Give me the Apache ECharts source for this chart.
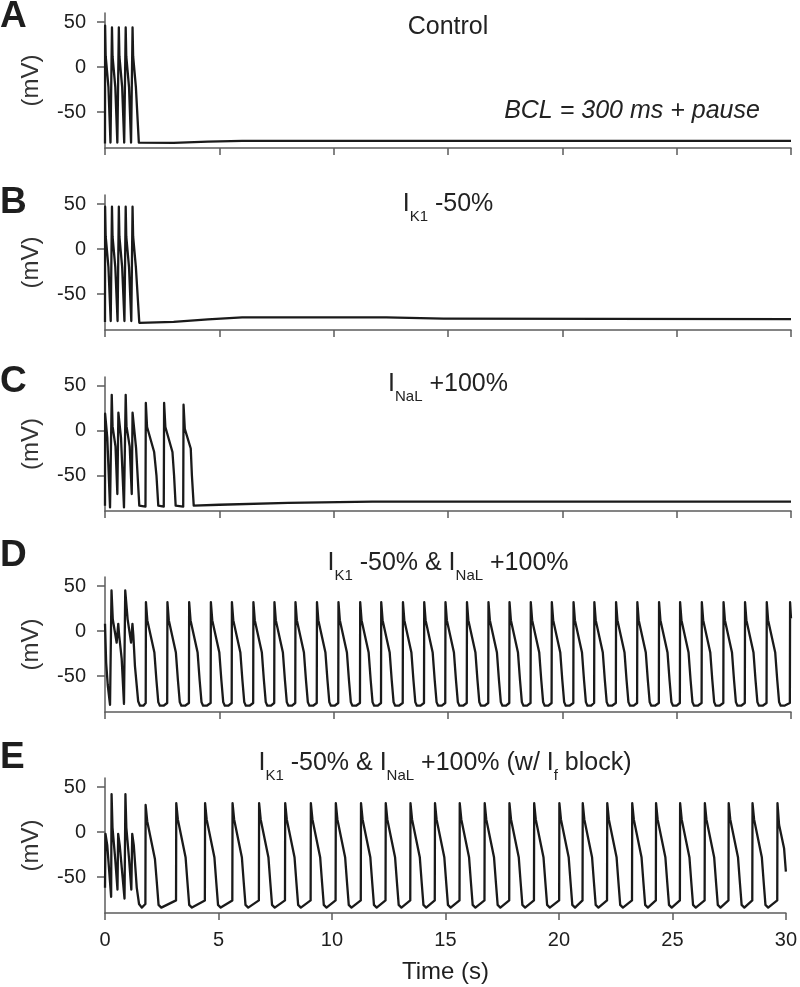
<!DOCTYPE html>
<html>
<head>
<meta charset="utf-8">
<script src="https://cdn.jsdelivr.net/npm/echarts@6/dist/echarts.min.js"></script>
<style>
html,body{margin:0;padding:0;background:#fff;}
#chart{width:800px;height:987px;}
</style>
</head>
<body>
<div id="chart"></div>
<script>
// ---- data (time in s, membrane potential in mV) ----
const timeTicks = [0, 5, 10, 15, 20, 25, 30];
const mvTicks = [-50, 0, 50];
const panelLetters = ['A', 'B', 'C', 'D', 'E'];

const traceA = [
  [0,-85],[0.005,46],[0.03,12],[0.15,-22],[0.24,-84],[0.3,-86],
  [0.305,44],[0.33,12],[0.45,-22],[0.54,-84],[0.6,-86],
  [0.605,44],[0.63,12],[0.75,-22],[0.84,-84],[0.9,-86],
  [0.905,44],[0.93,12],[1.05,-22],[1.14,-84],[1.2,-86],
  [1.205,44],[1.23,12],[1.35,-22],[1.48,-84],[1.56,-85.5],
  [3,-84.2],[4.5,-83],[6,-82],[12,-82],[20,-82],[30,-82]
];

const traceB = [
  [0,-81],[0.005,47],[0.03,14],[0.15,-20],[0.25,-80],[0.3,-81],
  [0.305,47],[0.33,14],[0.45,-20],[0.55,-80],[0.6,-81],
  [0.605,47],[0.63,14],[0.75,-20],[0.85,-80],[0.9,-81],
  [0.905,47],[0.93,14],[1.05,-20],[1.15,-80],[1.2,-81],
  [1.205,47],[1.23,14],[1.35,-20],[1.5,-82],[1.56,-83.7],
  [3,-81],[4.5,-78.2],[6,-76],[12.3,-76],[14.8,-77.3],[22,-77.7],[30,-78]
];

const traceC = [
  [0,-84],[0.005,19],[0.1,-8],[0.22,-86],[0.29,-86],
  [0.295,40],[0.33,5],[0.46,-18],[0.54,-71],[0.58,-71],
  [0.585,20],[0.7,-8],[0.83,-86],[0.9,-86],
  [0.905,40],[0.94,5],[1.08,-18],[1.17,-71],[1.2,-71],
  [1.205,20],[1.36,-20],[1.5,-84],[1.77,-85],
  [1.785,31],[1.84,4],[2.15,-24],[2.25,-50],[2.33,-84],[2.57,-85],
  [2.585,31],[2.64,4],[2.95,-24],[3.02,-50],[3.09,-84],[3.42,-85],
  [3.435,29],[3.49,2],[3.75,-20],[3.8,-50],[3.88,-84],
  [5,-83],[8,-81],[11.7,-79.6],[20,-79.5],[30,-79.5]
];

const traceD = [
  [0,8],[0.05,-35],[0.12,-60],[0.22,-82],[0.28,-82],
  [0.285,45],[0.34,13],[0.51,-13],[0.58,8],[0.62,-5],[0.73,-31],[0.83,-81],[0.88,-81],
  [0.885,45],[0.99,13],[1.14,-13],[1.2,8],[1.24,-5],[1.31,-39],[1.45,-78],[1.53,-83],[1.68,-83],
  [1.78,-80],[1.79,32],[1.85,12],[2.16,-24],[2.25,-55],[2.33,-79],[2.40,-83],[2.56,-83],
  [2.72,-80],[2.73,32],[2.79,12],[3.10,-24],[3.19,-55],[3.27,-79],[3.34,-83],[3.50,-83],
  [3.67,-80],[3.68,32],[3.74,12],[4.05,-24],[4.14,-55],[4.22,-79],[4.29,-83],[4.45,-83],
  [4.62,-80],[4.63,32],[4.69,12],[5.00,-24],[5.09,-55],[5.17,-79],[5.24,-83],[5.40,-83],
  [5.54,-80],[5.55,32],[5.61,12],[5.92,-24],[6.01,-55],[6.09,-79],[6.16,-83],[6.32,-83],
  [6.48,-80],[6.49,32],[6.55,12],[6.86,-24],[6.95,-55],[7.03,-79],[7.10,-83],[7.26,-83],
  [7.40,-80],[7.41,32],[7.47,12],[7.78,-24],[7.87,-55],[7.95,-79],[8.02,-83],[8.18,-83],
  [8.32,-80],[8.33,32],[8.39,12],[8.70,-24],[8.79,-55],[8.87,-79],[8.94,-83],[9.10,-83],
  [9.26,-80],[9.27,32],[9.33,12],[9.64,-24],[9.73,-55],[9.81,-79],[9.88,-83],[10.04,-83],
  [10.20,-80],[10.21,32],[10.27,12],[10.58,-24],[10.67,-55],[10.75,-79],[10.82,-83],[10.98,-83],
  [11.15,-80],[11.16,32],[11.22,12],[11.53,-24],[11.62,-55],[11.70,-79],[11.77,-83],[11.93,-83],
  [12.07,-80],[12.08,32],[12.14,12],[12.45,-24],[12.54,-55],[12.62,-79],[12.69,-83],[12.85,-83],
  [13.02,-80],[13.03,32],[13.09,12],[13.40,-24],[13.49,-55],[13.57,-79],[13.64,-83],[13.80,-83],
  [13.95,-80],[13.96,32],[14.02,12],[14.33,-24],[14.42,-55],[14.50,-79],[14.57,-83],[14.73,-83],
  [14.88,-80],[14.89,32],[14.95,12],[15.26,-24],[15.35,-55],[15.43,-79],[15.50,-83],[15.66,-83],
  [15.82,-80],[15.83,32],[15.89,12],[16.20,-24],[16.29,-55],[16.37,-79],[16.44,-83],[16.60,-83],
  [16.76,-80],[16.77,32],[16.83,12],[17.14,-24],[17.23,-55],[17.31,-79],[17.38,-83],[17.54,-83],
  [17.68,-80],[17.69,32],[17.75,12],[18.06,-24],[18.15,-55],[18.23,-79],[18.30,-83],[18.46,-83],
  [18.61,-80],[18.62,32],[18.68,12],[18.99,-24],[19.08,-55],[19.16,-79],[19.23,-83],[19.39,-83],
  [19.53,-80],[19.54,32],[19.60,12],[19.91,-24],[20.00,-55],[20.08,-79],[20.15,-83],[20.31,-83],
  [20.48,-80],[20.49,32],[20.55,12],[20.86,-24],[20.95,-55],[21.03,-79],[21.10,-83],[21.26,-83],
  [21.39,-80],[21.40,32],[21.46,12],[21.77,-24],[21.86,-55],[21.94,-79],[22.01,-83],[22.17,-83],
  [22.34,-80],[22.35,32],[22.41,12],[22.72,-24],[22.81,-55],[22.89,-79],[22.96,-83],[23.12,-83],
  [23.27,-80],[23.28,32],[23.34,12],[23.65,-24],[23.74,-55],[23.82,-79],[23.89,-83],[24.05,-83],
  [24.22,-80],[24.23,32],[24.29,12],[24.60,-24],[24.69,-55],[24.77,-79],[24.84,-83],[25.00,-83],
  [25.14,-80],[25.15,32],[25.21,12],[25.52,-24],[25.61,-55],[25.69,-79],[25.76,-83],[25.92,-83],
  [26.09,-80],[26.10,32],[26.16,12],[26.47,-24],[26.56,-55],[26.64,-79],[26.71,-83],[26.87,-83],
  [27.04,-80],[27.05,32],[27.11,12],[27.42,-24],[27.51,-55],[27.59,-79],[27.66,-83],[27.82,-83],
  [27.98,-80],[27.99,32],[28.05,12],[28.36,-24],[28.45,-55],[28.53,-79],[28.60,-83],[28.76,-83],
  [28.93,-80],[28.94,32],[29.00,12],[29.31,-24],[29.40,-55],[29.48,-79],[29.55,-83],[29.71,-83],
  [29.95,-80],[29.96,32],[30.00,14]
];

const traceE = [
  [0,-62],[0.02,-2],[0.1,-15],[0.27,-72],
  [0.29,42],[0.33,5],[0.45,-30],[0.55,-64],
  [0.58,-2],[0.65,-15],[0.86,-74],
  [0.9,42],[0.94,5],[1.06,-30],[1.16,-64],
  [1.2,-2],[1.27,-15],[1.4,-62],[1.5,-80],[1.62,-84],
  [1.78,-80],[1.79,30],[1.86,12],[2.20,-30],[2.28,-55],[2.36,-81],[2.48,-84],
  [3.13,-76],[3.14,32],[3.21,14],[3.55,-28],[3.63,-55],[3.71,-81],[3.83,-84],
  [4.40,-76],[4.41,32],[4.48,14],[4.82,-28],[4.90,-55],[4.98,-81],[5.10,-84],
  [5.61,-76],[5.62,32],[5.69,14],[6.03,-28],[6.11,-55],[6.19,-81],[6.31,-84],
  [6.78,-76],[6.79,32],[6.86,14],[7.20,-28],[7.28,-55],[7.36,-81],[7.48,-84],
  [7.93,-76],[7.94,32],[8.01,14],[8.35,-28],[8.43,-55],[8.51,-81],[8.63,-84],
  [9.06,-76],[9.07,32],[9.14,14],[9.48,-28],[9.56,-55],[9.64,-81],[9.76,-84],
  [10.16,-76],[10.17,32],[10.24,14],[10.58,-28],[10.66,-55],[10.74,-81],[10.86,-84],
  [11.27,-76],[11.28,32],[11.35,14],[11.69,-28],[11.77,-55],[11.85,-81],[11.97,-84],
  [12.36,-76],[12.37,32],[12.44,14],[12.78,-28],[12.86,-55],[12.94,-81],[13.06,-84],
  [13.45,-76],[13.46,32],[13.53,14],[13.87,-28],[13.95,-55],[14.03,-81],[14.15,-84],
  [14.53,-76],[14.54,32],[14.61,14],[14.95,-28],[15.03,-55],[15.11,-81],[15.23,-84],
  [15.62,-76],[15.63,32],[15.70,14],[16.04,-28],[16.12,-55],[16.20,-81],[16.32,-84],
  [16.72,-76],[16.73,32],[16.80,14],[17.14,-28],[17.22,-55],[17.30,-81],[17.42,-84],
  [17.81,-76],[17.82,32],[17.89,14],[18.23,-28],[18.31,-55],[18.39,-81],[18.51,-84],
  [18.90,-76],[18.91,32],[18.98,14],[19.32,-28],[19.40,-55],[19.48,-81],[19.60,-84],
  [20.01,-76],[20.02,32],[20.09,14],[20.43,-28],[20.51,-55],[20.59,-81],[20.71,-84],
  [21.04,-76],[21.05,32],[21.12,14],[21.46,-28],[21.54,-55],[21.62,-81],[21.74,-84],
  [22.12,-76],[22.13,32],[22.20,14],[22.54,-28],[22.62,-55],[22.70,-81],[22.82,-84],
  [23.22,-76],[23.23,32],[23.30,14],[23.64,-28],[23.72,-55],[23.80,-81],[23.92,-84],
  [24.27,-76],[24.28,32],[24.35,14],[24.69,-28],[24.77,-55],[24.85,-81],[24.97,-84],
  [25.33,-76],[25.34,32],[25.41,14],[25.75,-28],[25.83,-55],[25.91,-81],[26.03,-84],
  [26.42,-76],[26.43,32],[26.50,14],[26.84,-28],[26.92,-55],[27.00,-81],[27.12,-84],
  [27.47,-76],[27.48,32],[27.55,14],[27.89,-28],[27.97,-55],[28.05,-81],[28.17,-84],
  [28.52,-76],[28.53,32],[28.60,14],[28.94,-28],[29.02,-55],[29.10,-81],[29.22,-84],
  [29.62,-76],[29.63,32],[29.70,8],[29.92,-18],[30.00,-44]
];

const traces = [traceA, traceB, traceC, traceD, traceE];

// ---- layout / style ----
const FONT = '"Liberation Sans", Arial, Helvetica, sans-serif';
const AXIS_COLOR = '#5c5c5c';
const INK = '#1a1a1a';
const gridBoxes = [
  {top: 13, height: 135},
  {top: 195, height: 135},
  {top: 377, height: 134},
  {top: 577, height: 135},
  {top: 778, height: 135}
];
const letterY = [17, 203, 382, 556, 758];

const grid = gridBoxes.map(g => ({left: 105, width: 686, top: g.top, height: g.height}));

const xAxis = gridBoxes.map((g, i) => ({
  type: 'value', gridIndex: i, min: 0, max: 30, interval: 5,
  axisLine: {show: true, onZero: false, lineStyle: {color: AXIS_COLOR, width: 1.5}},
  axisTick: {show: true, inside: false, length: 7, lineStyle: {color: AXIS_COLOR, width: 1.5}},
  axisLabel: {show: i === 4, fontSize: 20, fontFamily: FONT, color: '#1e1e1e', margin: 17},
  splitLine: {show: false},
  name: i === 4 ? 'Time (s)' : '',
  nameLocation: 'middle', nameGap: 47,
  nameTextStyle: {fontSize: 24, fontFamily: FONT, color: '#1e1e1e'}
}));

const yAxis = gridBoxes.map((g, i) => ({
  type: 'value', gridIndex: i, min: -90, max: 60,
  axisLine: {show: true, onZero: false, lineStyle: {color: AXIS_COLOR, width: 1.5}},
  axisTick: {show: true, inside: false, length: 8, customValues: mvTicks, lineStyle: {color: AXIS_COLOR, width: 1.5}},
  axisLabel: {show: true, customValues: mvTicks, fontSize: 20, fontFamily: FONT, color: '#1e1e1e', margin: 19},
  splitLine: {show: false},
  name: '(mV)', nameLocation: 'middle', nameRotate: 90, nameGap: 62,
  nameTextStyle: {fontSize: 24, fontFamily: FONT, color: '#333'}
}));

const series = traces.map((d, i) => ({
  type: 'line', xAxisIndex: i, yAxisIndex: i, data: d,
  showSymbol: false, symbol: 'none', smooth: false,
  lineStyle: {color: INK, width: 2.3, join: 'round'},
  animation: false, silent: true
}));

const subStyle = {fontSize: 15, fontFamily: FONT, fill: '#222', padding: [26, 0, 0, 0]};
function titleText(x, y, text, extra) {
  return {
    type: 'text', x: x, y: y, silent: true,
    style: Object.assign({
      text: text, fontSize: 25, fontFamily: FONT, fill: '#222',
      align: 'center', verticalAlign: 'middle',
      rich: {sub: subStyle}
    }, extra || {})
  };
}

const graphic = [];
panelLetters.forEach((L, i) => {
  graphic.push({
    type: 'text', x: 0, y: letterY[i], silent: true,
    style: {text: L, fontSize: 37, fontWeight: 'bold', fontFamily: FONT, fill: '#1e1e1e', align: 'left', verticalAlign: 'middle'}
  });
});
graphic.push(titleText(448, 27, 'Control'));
graphic.push(titleText(632, 111, 'BCL = 300 ms + pause', {fontStyle: 'italic'}));
graphic.push(titleText(448, 204, 'I{sub|K1} -50%'));
graphic.push(titleText(448, 384, 'I{sub|NaL} +100%'));
graphic.push(titleText(448, 563, 'I{sub|K1} -50% & I{sub|NaL} +100%'));
graphic.push(titleText(445, 763, 'I{sub|K1} -50% & I{sub|NaL} +100% (w/ I{sub|f} block)'));

const chart = echarts.init(document.getElementById('chart'), null, {renderer: 'canvas'});
chart.setOption({
  animation: false,
  backgroundColor: '#ffffff',
  grid: grid,
  xAxis: xAxis,
  yAxis: yAxis,
  series: series,
  graphic: graphic
});
</script>
</body>
</html>
